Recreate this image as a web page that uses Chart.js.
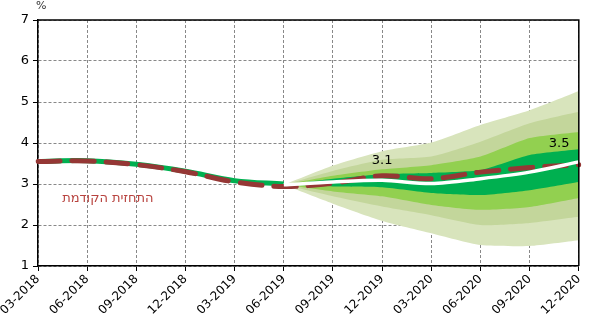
<!DOCTYPE html>
<html>
<head>
<meta charset="utf-8">
<script src="https://cdn.jsdelivr.net/npm/chart.js@4/dist/chart.umd.min.js"></script>
<style>
  html, body { margin: 0; padding: 0; background: #fff; }
  #wrap { width: 590px; height: 322px; }
</style>
</head>
<body>
<div id="wrap"><canvas id="fanChart"></canvas></div>
<script>
const labels = ['03-2018', '06-2018', '09-2018', '12-2018', '03-2019', '06-2019',
  '09-2019', '12-2019', '03-2020', '06-2020', '09-2020', '12-2020'];

const actual   = [3.55, 3.57, 3.48, 3.31, 3.08, 3.00, null, null, null, null, null, null];
const previous = [3.55, 3.56, 3.47, 3.30, 3.05, 2.94, 3.02, 3.20, 3.13, 3.29, 3.40, 3.47];
const forecast = [null, null, null, null, null, 2.98, 3.05, 3.09, 3.01, 3.13, 3.29, 3.54];

// fan bands, outer to inner (upper / lower edge)
const _ = null;
const band1Up = [_, _, _, _, _, 2.98, 3.45, 3.80, 4.01, 4.44, 4.80, 5.27];
const band1Lo = [_, _, _, _, _, 2.98, 2.52, 2.10, 1.80, 1.51, 1.49, 1.63];
const band2Up = [_, _, _, _, _, 2.98, 3.32, 3.59, 3.67, 4.03, 4.48, 4.76];
const band2Lo = [_, _, _, _, _, 2.98, 2.70, 2.45, 2.24, 2.00, 2.05, 2.20];
const band3Up = [_, _, _, _, _, 2.98, 3.20, 3.36, 3.46, 3.67, 4.12, 4.27];
const band3Lo = [_, _, _, _, _, 2.98, 2.82, 2.70, 2.49, 2.37, 2.44, 2.66];
const band4Up = [_, _, _, _, _, 2.98, 3.13, 3.24, 3.27, 3.34, 3.71, 3.85];
const band4Lo = [_, _, _, _, _, 2.98, 2.94, 2.92, 2.78, 2.73, 2.85, 3.05];

const yTicks = [1, 2, 3, 4, 5, 6, 7];
const prevLabel = 'התחזית הקודמת';

const bandColors = ['#d8e4bc', '#c3d69b', '#92d050', '#00b050'];

function band(up, lo, color, order) {
  return [
    { data: up, fill: '+1', backgroundColor: color, borderWidth: 0, pointRadius: 0, tension: 0.2, order: order },
    { data: lo, fill: false, borderWidth: 0, pointRadius: 0, tension: 0.2, order: order }
  ];
}

const textMarks = {
  id: 'textMarks',
  afterDatasetsDraw(chart) {
    const { ctx, scales: { x, y }, chartArea } = chart;
    ctx.save();
    // frame top and right
    ctx.strokeStyle = '#000';
    ctx.lineWidth = 1.5;
    ctx.beginPath();
    ctx.moveTo(chartArea.left, chartArea.top);
    ctx.lineTo(chartArea.right, chartArea.top);
    ctx.lineTo(chartArea.right, chartArea.bottom);
    ctx.stroke();

    ctx.textAlign = 'center';
    ctx.textBaseline = 'middle';
    ctx.fillStyle = '#000';
    ctx.font = '13px "DejaVu Sans"';
    ctx.fillText('3.1', x.getPixelForValue(7), y.getPixelForValue(3.57));
    ctx.fillText('3.5', x.getPixelForValue(10.6), y.getPixelForValue(3.98));

    ctx.fillStyle = '#b8433f';
    ctx.font = '13px "DejaVu Sans"';
    ctx.fillText(prevLabel, x.getPixelForValue(1.42), y.getPixelForValue(2.65));

    ctx.fillStyle = '#333';
    ctx.font = '11px "DejaVu Sans"';
    ctx.textAlign = 'left';
    ctx.fillText('%', 36, 6);
    ctx.restore();
  }
};

new Chart(document.getElementById('fanChart'), {
  type: 'line',
  data: {
    labels: labels,
    datasets: [
      { data: forecast, borderColor: '#ffffff', borderWidth: 3.5, pointRadius: 0, fill: false, tension: 0.3, order: 0 },
      { data: previous, borderColor: '#953735', borderWidth: 5, borderDash: [22, 12],
        borderCapStyle: 'round', pointRadius: 0, fill: false, tension: 0.35, order: 1 },
      { data: actual, borderColor: '#00b050', borderWidth: 5, pointRadius: 0, fill: false, tension: 0.35, order: 2 },
      ...band(band4Up, band4Lo, bandColors[3], 3),
      ...band(band3Up, band3Lo, bandColors[2], 4),
      ...band(band2Up, band2Lo, bandColors[1], 5),
      ...band(band1Up, band1Lo, bandColors[0], 6)
    ]
  },
  options: {
    responsive: true,
    maintainAspectRatio: false,
    animation: false,
    layout: { padding: { top: 20, right: 11, left: 0, bottom: 0 } },
    plugins: { legend: { display: false }, tooltip: { enabled: false } },
    scales: {
      x: {
        ticks: { color: '#000', font: { family: 'DejaVu Sans', size: 12 }, maxRotation: 45, minRotation: 45, padding: 1 },
        grid: { color: '#888', tickColor: '#000', tickLength: 5, tickBorderDash: [] },
        border: { color: '#000', width: 1.5, dash: [3, 2] },
        afterFit(scale) { scale.height = 56; }
      },
      y: {
        min: 1, max: 7,
        afterBuildTicks(scale) { scale.ticks = yTicks.map(v => ({ value: v })); },
        ticks: { color: '#000', font: { family: 'DejaVu Sans', size: 13 }, padding: 4 },
        grid: { color: '#888', tickColor: '#000', tickLength: 5, tickBorderDash: [] },
        border: { color: '#000', width: 1.5, dash: [3, 2] },
        afterFit(scale) { scale.width = 38; }
      }
    }
  },
  plugins: [textMarks]
});
</script>
</body>
</html>
